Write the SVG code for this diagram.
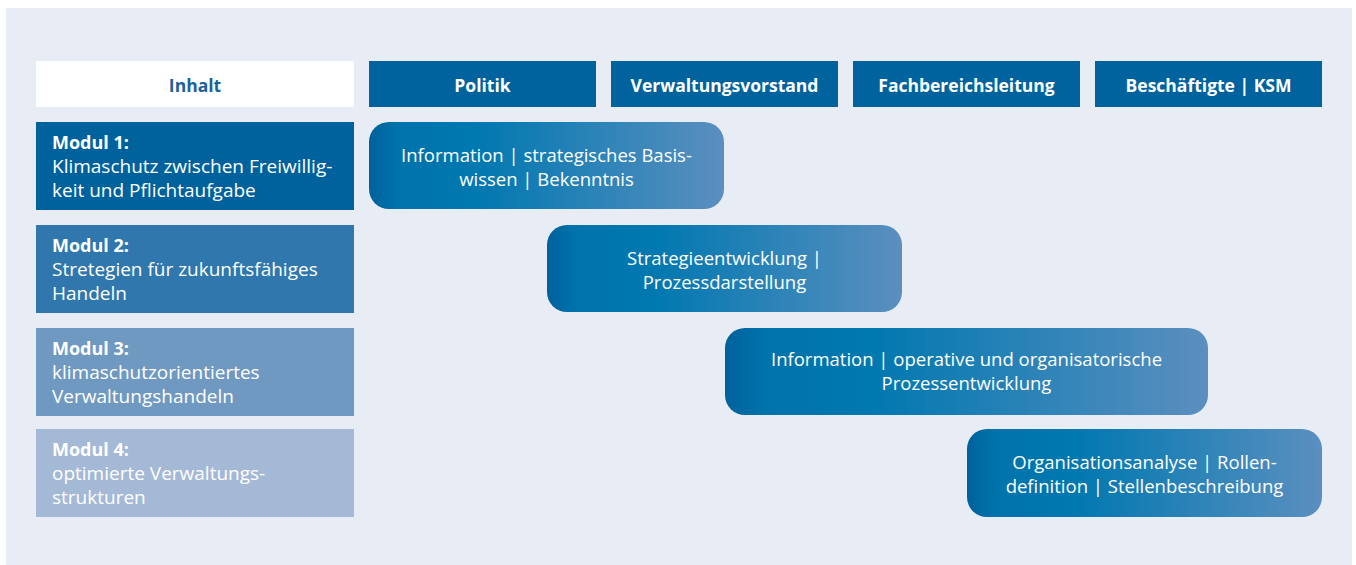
<svg xmlns="http://www.w3.org/2000/svg" width="1356" height="565" viewBox="0 0 1356 565">
<defs>
<linearGradient id="pg" x1="0" y1="0" x2="1" y2="0">
<stop offset="0" stop-color="#00619c"/>
<stop offset="0.08" stop-color="#0073ab"/>
<stop offset="0.3" stop-color="#0078b0"/>
<stop offset="1" stop-color="#5b8fbf"/>
</linearGradient>
<style>
text{font-family:"Open Sans","Noto Sans","Liberation Sans",sans-serif;font-size:18.5px;fill:#ffffff}
.m{font-size:19px}
.b{font-weight:bold}
.h{font-size:17.5px;font-weight:bold}
.c{text-anchor:middle}
.hd{fill:#00639e}
.pill{fill:url(#pg)}
</style>
</defs>
<rect x="0" y="0" width="1356" height="565" fill="#ffffff"/>
<rect x="6" y="8" width="1346" height="557" fill="#e8ecf4"/>
<g id="inhalt">
<rect x="36" y="61" width="318" height="46" fill="#ffffff"/>
<text class="h c" x="195" y="92" style="fill:#1b619a">Inhalt</text>
</g>
<g id="politik">
<rect class="hd" x="369" y="61" width="227" height="46"/>
<text class="h c" x="482.5" y="92">Politik</text>
</g>
<g id="verwaltungsvorstand">
<rect class="hd" x="611" y="61" width="227" height="46"/>
<text class="h c" x="724.5" y="92">Verwaltungsvorstand</text>
</g>
<g id="fachbereichsleitung">
<rect class="hd" x="853" y="61" width="227" height="46"/>
<text class="h c" x="966.5" y="92">Fachbereichsleitung</text>
</g>
<g id="beschaeftigte">
<rect class="hd" x="1095" y="61" width="227" height="46"/>
<text class="h c" x="1208.5" y="92">Beschäftigte | KSM</text>
</g>
<g id="modul1">
<rect x="36" y="122" width="318" height="88" fill="#00629d"/>
<text class="m" x="52" y="149"><tspan class="b" style="font-size:18px">Modul 1:</tspan><tspan x="52" dy="24">Klimaschutz zwischen Freiwillig-</tspan><tspan x="52" dy="24">keit und Pflichtaufgabe</tspan></text>
</g>
<g id="modul2">
<rect x="36" y="225" width="318" height="88" fill="#2f77ad"/>
<text class="m" x="52" y="252"><tspan class="b" style="font-size:18px">Modul 2:</tspan><tspan x="52" dy="24">Stretegien für zukunftsfähiges</tspan><tspan x="52" dy="24">Handeln</tspan></text>
</g>
<g id="modul3">
<rect x="36" y="328" width="318" height="88" fill="#7099c2"/>
<text class="m" x="52" y="355"><tspan class="b" style="font-size:18px">Modul 3:</tspan><tspan x="52" dy="24">klimaschutzorientiertes</tspan><tspan x="52" dy="24">Verwaltungshandeln</tspan></text>
</g>
<g id="modul4">
<rect x="36" y="429" width="318" height="88" fill="#a4b9d6"/>
<text class="m" x="52" y="456"><tspan class="b" style="font-size:18px">Modul 4:</tspan><tspan x="52" dy="24">optimierte Verwaltungs-</tspan><tspan x="52" dy="24">strukturen</tspan></text>
</g>
<g id="phase1">
<rect class="pill" x="369" y="122" width="355" height="87" rx="20"/>
<text class="c" x="546.5" y="162">Information | strategisches Basis-<tspan x="546.5" dy="24">wissen | Bekenntnis</tspan></text>
</g>
<g id="phase2">
<rect class="pill" x="547" y="225" width="355" height="87" rx="20"/>
<text class="c" x="724.5" y="265">Strategieentwicklung |<tspan x="724.5" dy="24">Prozessdarstellung</tspan></text>
</g>
<g id="phase3">
<rect class="pill" x="725" y="328" width="483" height="87" rx="20"/>
<text class="c" x="966.5" y="366">Information | operative und organisatorische<tspan x="966.5" dy="24">Prozessentwicklung</tspan></text>
</g>
<g id="phase4">
<rect class="pill" x="967" y="429" width="355" height="88" rx="20"/>
<text class="c" x="1144.5" y="469">Organisationsanalyse | Rollen-<tspan x="1144.5" dy="24">definition | Stellenbeschreibung</tspan></text>
</g>
<g id="connectors"></g>
</svg>
